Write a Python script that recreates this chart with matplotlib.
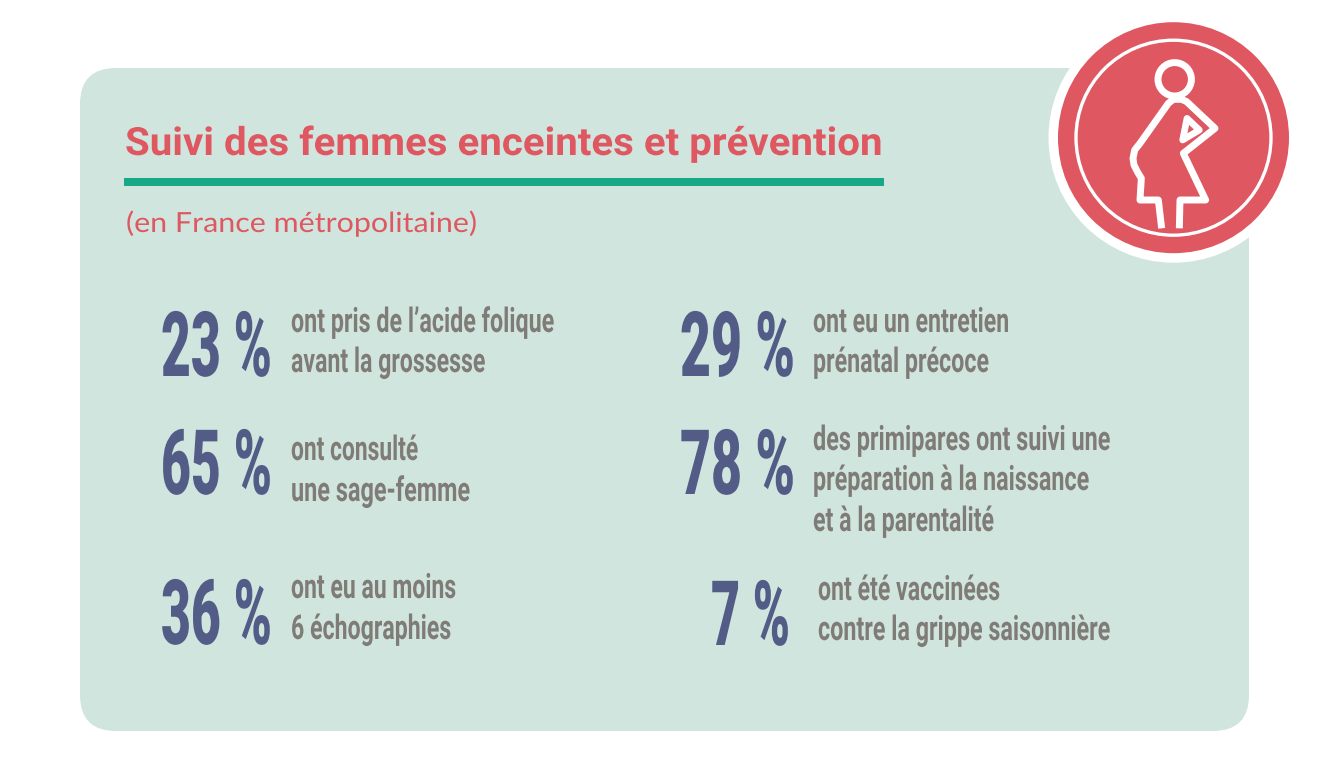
import matplotlib
matplotlib.use('Agg')
import matplotlib.pyplot as plt
from matplotlib.patches import Circle, FancyBboxPatch, Rectangle, Polygon
from matplotlib.patheffects import AbstractPathEffect
from matplotlib.transforms import Affine2D, Bbox

# Chart text and values
title = 'Suivi des femmes enceintes et prévention'
subtitle = '(en France métropolitaine)'
percents = ['23 %', '65 %', '36 %', '29 %', '78 %', '7 %']
captions = [
    ['ont pris de l’acide folique', 'avant la grossesse'],
    ['ont consulté', 'une sage-femme'],
    ['ont eu au moins', '6 échographies'],
    ['ont eu un entretien', 'prénatal précoce'],
    ['des primipares ont suivi une', 'préparation à la naissance', 'et à la parentalité'],
    ['ont été vaccinées', 'contre la grippe saisonnière'],
]

# Layout in pixels
percent_x = [161, 161, 161, 680, 680, 711]
percent_right = [272, 272, 272, 795, 795, 790]
percent_y = [376, 494, 644, 376, 494, 645]
caption_x = [291, 291, 291, 813, 813, 818]
caption_y = [[332, 372], [460, 501], [598, 639], [332, 372], [450, 490, 531], [600, 640]]
caption_right = [[554, 485], [418, 470], [456, 451], [1009, 989], [1110, 1089, 994], [1000, 1110]]

# Pictogram outline, in pixels of a zoomed crop
body_x = [365, 355, 300, 304, 292, 282, 279, 284, 300, 385, 400, 425, 440, 525, 430, 497, 420, 418]
body_y = [655, 570, 570, 505, 485, 465, 445, 420, 400, 280, 268, 268, 275, 355, 430, 570, 570, 655]
tri_x = [441, 428, 478]
tri_y = [325, 390, 360]

RED = '#df5760'
GREEN = '#17a987'
PANEL = '#d0e5de'
BLUE = '#525c87'
GREY = '#7f7b76'


# Squeezes or widens drawn text around its left edge
class StretchX(AbstractPathEffect):
    def __init__(self, x0, sx):
        super().__init__()
        self.x0 = x0
        self.sx = sx

    def draw_path(self, renderer, gc, tpath, affine, rgbFace=None):
        t = affine + Affine2D().translate(-self.x0, 0).scale(self.sx, 1).translate(self.x0, 0)
        renderer.draw_path(gc, tpath, t, rgbFace)


fig = plt.figure(figsize=(13.28, 7.61), dpi=100)
ax = fig.add_axes([0, 0, 1, 1])
ax.set_xlim(0, 1328)
ax.set_ylim(761, 0)
ax.axis('off')
renderer = fig.canvas.get_renderer()


def put_text(x, right, y, s, size, color, family, weight='normal'):
    t = ax.text(x, y, s, fontsize=size, color=color, family=family, fontweight=weight,
                ha='left', va='baseline')
    box = t.get_window_extent(renderer)
    sx = (right - x) / box.width
    t.set_path_effects([StretchX(box.x0, sx)])
    # report the box that is really drawn
    drawn = Bbox.from_extents(box.x0, box.y0, box.x0 + box.width * sx, box.y1)
    t.get_window_extent = lambda renderer=None, dpi=None: drawn
    return t


ax.add_patch(FancyBboxPatch((80 + 36, 68 + 36), 1169 - 72, 663 - 72,
                            boxstyle='round,pad=36,rounding_size=36',
                            fc=PANEL, ec='none'))
ax.add_patch(Rectangle((124, 178), 760, 8, fc=GREEN, ec='none'))

put_text(125, 883, 155, title, 28, RED, 'Roboto', 'bold')
put_text(126, 478, 232, subtitle, 20, RED, 'Lato', 'normal')

for i in range(len(percents)):
    put_text(percent_x[i], percent_right[i], percent_y[i], percents[i], 65, BLUE, 'Roboto', 'black')
    for j in range(len(captions[i])):
        put_text(caption_x[i], caption_right[i][j], caption_y[i][j], captions[i][j], 24.5, GREY,
                 'Roboto', 'bold')

# Round badge
cx, cy = 1173.5, 137.7
ax.add_patch(Circle((cx, cy), 125, fc='white', ec='none'))
ax.add_patch(Circle((cx, cy), 115.5, fc=RED, ec='none'))
ax.add_patch(Circle((cx, cy), 97.5, fc='none', ec='white', lw=2.4))

# Pictogram
ax.add_patch(Circle((1174.7, 79.3), 16.7, fc='none', ec='white', lw=5))
px = [v / 3 + 1040 for v in body_x]
py = [v / 3 + 10 for v in body_y]
ax.plot(px, py, color='white', lw=5, solid_joinstyle='round', solid_capstyle='butt')
tri = [(a / 3 + 1040, b / 3 + 10) for a, b in zip(tri_x, tri_y)]
ax.add_patch(Polygon(tri, closed=True, fc='none', ec='white', lw=4.8, joinstyle='round'))

fig.savefig('out.png', dpi=100, facecolor='white')
